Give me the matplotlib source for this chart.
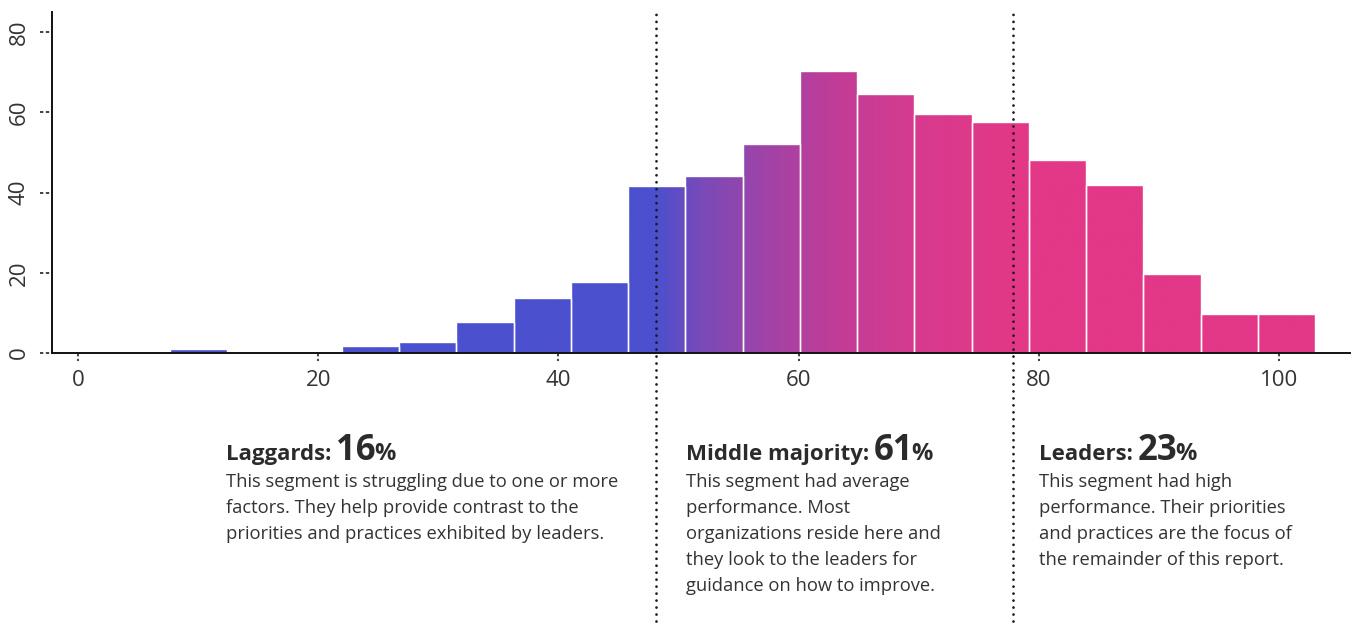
import numpy as np
import matplotlib.pyplot as plt
from matplotlib.path import Path
from matplotlib.patches import PathPatch
from matplotlib.colors import to_rgb

plt.rcParams['font.family'] = ['Open Sans', 'DejaVu Sans']

# histogram counts (20 equal bins)
counts = [1.0, 0, 0, 1.8, 2.8, 7.7, 13.7, 17.8, 41.6, 44.0,
          52.0, 70.4, 64.5, 59.6, 57.5, 48.0, 42.0, 19.7, 9.6, 9.6]
bin_start = 7.66
bin_width = 4.767
cutoffs = [48.1, 77.85]

xticks = [0, 20, 40, 60, 80, 100]
yticks = [0, 20, 40, 60, 80]

# colour stops of the blue -> pink gradient along x
grad_x = [48.1, 52, 58, 63, 70, 78]
grad_colors = ['#4b50ce', '#7a4ab8', '#a542a5', '#c03d98', '#d73b8e', '#e33787']

segments = [
    ("Laggards:", "16", ["This segment is struggling due to one or more",
                         "factors. They help provide contrast to the",
                         "priorities and practices exhibited by leaders."]),
    ("Middle majority:", "61", ["This segment had average",
                                "performance. Most",
                                "organizations reside here and",
                                "they look to the leaders for",
                                "guidance on how to improve."]),
    ("Leaders:", "23", ["This segment had high",
                        "performance. Their priorities",
                        "and practices are the focus of",
                        "the remainder of this report."]),
]
seg_x_px = [226, 686, 1039]

W, H = 1354, 627
fig = plt.figure(figsize=(W / 100, H / 100), dpi=100)
ax = fig.add_axes([52 / W, 1 - 353 / H, (1350 - 52) / W, (353 - 12) / H])

xmin, xmax = -2.16, 105.9
ymax = 85
ax.set_xlim(xmin, xmax)
ax.set_ylim(0, ymax)

lefts = bin_start + bin_width * np.arange(len(counts))
bars = ax.bar(lefts, counts, width=bin_width, align='edge', color='none',
              edgecolor='none')

# gradient image clipped to the bars
xs = np.linspace(xmin, xmax, 1200)
rgb = np.array([to_rgb(c) for c in grad_colors])
img = np.stack([np.interp(xs, grad_x, rgb[:, i]) for i in range(3)], axis=-1)
im = ax.imshow(img[np.newaxis, :, :], extent=[xmin, xmax, 0, ymax],
               aspect='auto', interpolation='bilinear', zorder=1)
paths = [b.get_path().transformed(b.get_patch_transform())
         for b in bars if b.get_height() > 0]
clip = PathPatch(Path.make_compound_path(*paths), transform=ax.transData,
                 facecolor='none', edgecolor='none')
ax.add_patch(clip)
im.set_clip_path(clip)

# white separators between bars
ax.bar(lefts, counts, width=bin_width, align='edge', fill=False,
       edgecolor='white', linewidth=1.0, zorder=2)

for c in cutoffs:
    ax.axvline(c, ymin=-0.85, ymax=1.0, clip_on=False, color='#1a1a1a',
               linewidth=2.0, dashes=(0.01, 2.5), dash_capstyle='round',
               solid_capstyle='round', zorder=5)

for s in ['top', 'right']:
    ax.spines[s].set_visible(False)
for s in ['left', 'bottom']:
    ax.spines[s].set_linewidth(1.4)
    ax.spines[s].set_color('#111111')

ax.set_xticks(xticks)
ax.set_yticks(yticks)
ax.tick_params(axis='x', length=0, pad=12, labelsize=16, labelcolor='#333333')
ax.tick_params(axis='y', length=0, pad=16, labelsize=16, labelcolor='#333333',
               labelrotation=90)
for lbl in ax.get_yticklabels():
    lbl.set_va('center')

# dotted tick marks
for v in yticks:
    ax.plot([-12 / 1298, 0], [v, v], transform=ax.get_yaxis_transform(),
            color='#222222', linewidth=1.2, dashes=(2, 1.5), clip_on=False)
for v in xticks:
    ax.plot([v, v], [0, -8 / 341], transform=ax.get_xaxis_transform(),
            color='#222222', linewidth=1.2, dashes=(2, 1.5), clip_on=False)

# segment descriptions
renderer = fig.canvas.get_renderer()
for (label, pct, lines), x_px in zip(segments, seg_x_px):
    y_title = 1 - 460 / H
    t1 = fig.text(x_px / W, y_title, label, fontsize=16, fontweight='bold',
                  color='#2b2b2b', va='baseline')
    x2 = t1.get_window_extent(renderer).x1 + 5
    t2 = fig.text(x2 / W, y_title, pct, fontsize=25, fontweight='bold',
                  color='#2b2b2b', va='baseline')
    x3 = t2.get_window_extent(renderer).x1 - 2
    fig.text(x3 / W, y_title, "%", fontsize=17, fontweight='bold',
             color='#2b2b2b', va='baseline')
    for i, line in enumerate(lines):
        fig.text(x_px / W, 1 - (487 + 26 * i) / H, line, fontsize=13.2,
                 color='#333333', va='baseline')

fig.savefig("out.png", dpi=100)
